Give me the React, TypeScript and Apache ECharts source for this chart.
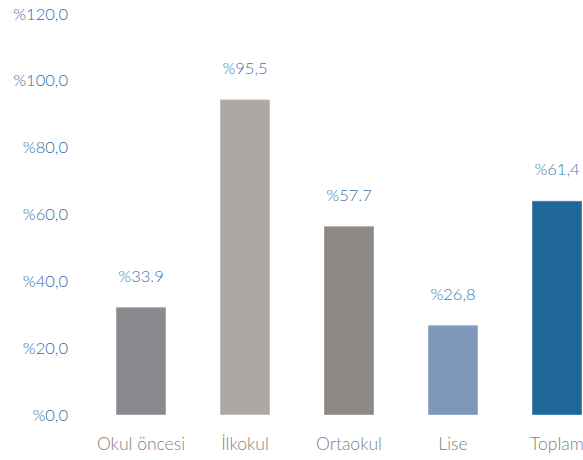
import React, { useEffect, useRef } from "react";
import * as echarts from "echarts";

const categories = ["Okul öncesi", "İlkokul", "Ortaokul", "Lise", "Toplam"];
const barValues = [32.2, 94.3, 56.4, 26.8, 64.0];
const valueLabels = ["%33.9", "%95,5", "%57.7", "%26,8", "%61,4"];
const barColors = ["#8a8b8f", "#aca8a5", "#8c8884", "#7f97bb", "#1f6699"];
const borderColors = ["#a3a4a7", "#bfbcb9", "#a29e9b", "#98acca", "#4a86b3"];
const yTicks = [0, 20, 40, 60, 80, 100, 120];

export default function App() {
  const ref = useRef<HTMLDivElement>(null);
  useEffect(() => {
    if (!ref.current) return;
    const chart = echarts.init(ref.current, undefined, { renderer: "svg" });
    chart.setOption({
      animation: false,
      backgroundColor: "#ffffff",
      grid: { left: 89, right: 31, top: 13.5, bottom: 45 },
      xAxis: {
        type: "category",
        data: categories,
        axisLine: { show: false },
        axisTick: { show: false },
        axisLabel: {
          interval: 0,
          color: "#808080",
          fontSize: 17.5,
          fontFamily: "Lato",
          fontWeight: 300,
          margin: 19,
        },
      },
      yAxis: {
        type: "value",
        min: yTicks[0],
        max: yTicks[yTicks.length - 1],
        interval: 20,
        splitLine: { show: false },
        axisLine: { show: false },
        axisTick: { show: false },
        axisLabel: {
          color: "#2f6ca6",
          fontSize: 16.5,
          fontFamily: "Lato",
          fontWeight: 300,
          margin: 21,
          formatter: (v: number) => "%" + v.toFixed(1).replace(".", ","),
        },
      },
      series: [
        {
          type: "bar",
          barWidth: 50,
          data: barValues.map((v, i) => ({
            value: v,
            itemStyle: {
              color: barColors[i],
              borderColor: borderColors[i],
              borderWidth: 1,
            },
          })),
          label: {
            show: true,
            position: "top",
            distance: 23,
            color: "#3a78b0",
            fontSize: 16.5,
            fontFamily: "Lato",
            fontWeight: 300,
            formatter: (p: any) => valueLabels[p.dataIndex],
          },
        },
      ],
    });
    return () => chart.dispose();
  }, []);
  return (
    <div
      style={{
        position: "fixed",
        left: 0,
        top: 0,
        width: 583,
        height: 460,
        overflow: "hidden",
        background: "#fff",
      }}
    >
      <div ref={ref} style={{ width: 640, height: 460 }} />
    </div>
  );
}
